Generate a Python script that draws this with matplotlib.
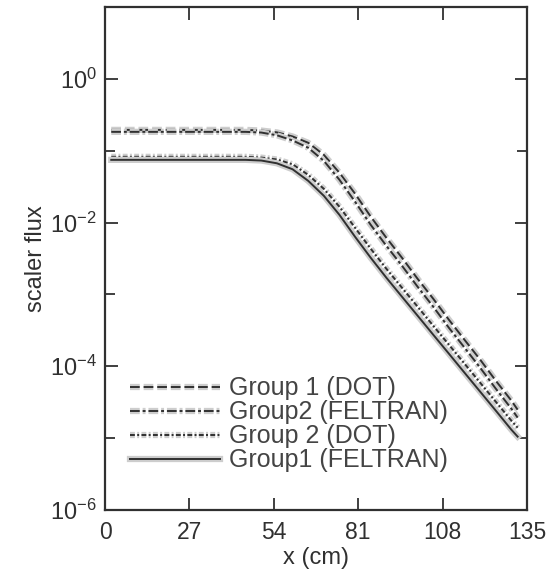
import matplotlib
matplotlib.use("Agg")
import matplotlib.pyplot as plt
import matplotlib.patheffects as pe
from matplotlib.ticker import FixedLocator, LogFormatterSciNotation, NullFormatter

plt.rcParams['font.family'] = ['Liberation Sans', 'DejaVu Sans']
plt.rcParams['mathtext.fontset'] = 'custom'
plt.rcParams['mathtext.rm'] = 'Liberation Sans'

# x positions (cm)
x_cm = [2, 45, 50, 55, 60, 65, 70, 75, 80, 85, 90, 95, 100, 105, 110, 115, 120, 125, 130, 132]

g1_dot = [0.195, 0.195, 0.191, 0.180, 0.158, 0.129, 0.0877, 0.0493, 0.0252, 0.0121,
          0.00615, 0.00324, 0.00165, 8.71e-4, 4.45e-4, 2.34e-4, 1.24e-4, 6.31e-5, 3.33e-5, 2.49e-5]
g2_feltran = [0.183, 0.183, 0.179, 0.164, 0.139, 0.110, 0.0723, 0.0394, 0.0195, 0.00931,
              0.00475, 0.00251, 0.00128, 6.75e-4, 3.44e-4, 1.82e-4, 9.57e-5, 4.89e-5, 2.57e-5, 1.93e-5]
g2_dot = [0.0822, 0.0822, 0.0802, 0.0756, 0.0647, 0.0462, 0.0295, 0.0166, 0.00847, 0.00433,
          0.00228, 0.00124, 6.75e-4, 3.67e-4, 2.00e-4, 1.09e-4, 5.92e-5, 3.22e-5, 1.75e-5, 1.40e-5]
g1_feltran = [0.0746, 0.0746, 0.0730, 0.0668, 0.0552, 0.0381, 0.0236, 0.0128, 0.00634, 0.00324,
              0.00171, 9.29e-4, 5.06e-4, 2.75e-4, 1.50e-4, 8.15e-5, 4.44e-5, 2.42e-5, 1.31e-5, 1.05e-5]

series_labels = ["Group 1 (DOT)", "Group2 (FELTRAN)", "Group 2 (DOT)", "Group1 (FELTRAN)"]
x_ticks = [0, 27, 54, 81, 108, 135]

fig = plt.figure(figsize=(5.47, 5.79), dpi=100)
ax = fig.add_axes([105/547, 69/579, 422/547, 503/579])

ink = '#303030'
halo = [pe.Stroke(linewidth=4.5, foreground='#cdcdcd'), pe.Normal()]

styles = [(0, (5, 2)), (0, (5, 1.5, 1.5, 1.5)), (0, (2.5, 1.2, 1, 1.2)), '-']
for yv, lab, ls in zip([g1_dot, g2_feltran, g2_dot, g1_feltran], series_labels, styles):
    ax.plot(x_cm, yv, color=ink, lw=1.4, linestyle=ls, label=lab, path_effects=halo)

ax.set_yscale('log')
ax.set_xlim(0, 135)
ax.set_ylim(1e-6, 1e1)
ax.set_xticks(x_ticks)
ax.set_xticklabels([str(t) for t in x_ticks])
ax.yaxis.set_major_locator(FixedLocator([1e-6, 1e-4, 1e-2, 1e0]))
ax.yaxis.set_major_formatter(LogFormatterSciNotation())
ax.yaxis.set_minor_locator(FixedLocator([1e-5, 1e-3, 1e-1, 1e1]))
ax.yaxis.set_minor_formatter(NullFormatter())

ax.tick_params(axis='both', which='major', direction='in', length=9, width=1.3,
               top=True, right=True, colors=ink)
ax.tick_params(axis='x', which='major', labelsize=16.5, pad=8)
ax.tick_params(axis='y', which='major', labelsize=17, pad=6)
ax.tick_params(axis='y', which='minor', direction='in', length=7, width=1.3, right=True, colors=ink)
for s in ax.spines.values():
    s.set_linewidth(1.6)
    s.set_color(ink)

ax.set_xlabel("x (cm)", fontsize=17, color=ink, labelpad=2)
ax.set_ylabel("scaler flux", fontsize=17, color=ink, labelpad=2)

leg = ax.legend(loc='lower left', bbox_to_anchor=(0.035, 0.055), frameon=False,
                fontsize=18, handlelength=3.6, handletextpad=0.35, labelspacing=0.0,
                borderaxespad=0.0)
for t in leg.get_texts():
    t.set_color('#444444')

fig.savefig("out.png", dpi=100)
